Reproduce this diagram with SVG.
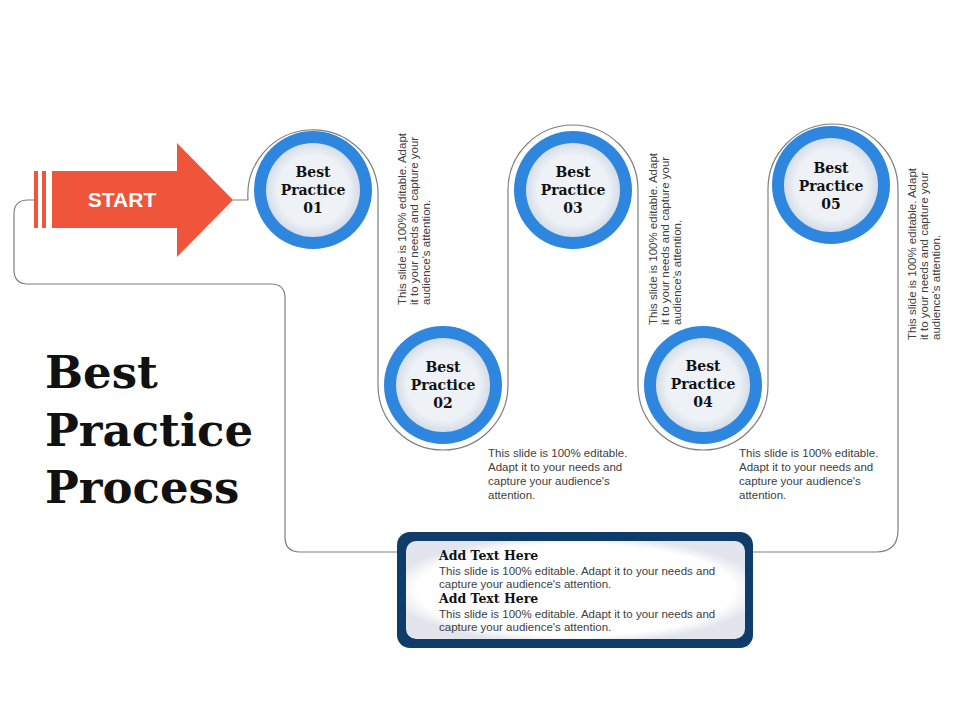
<svg xmlns="http://www.w3.org/2000/svg" width="960" height="720" viewBox="0 0 960 720">
<defs>
<radialGradient id="ig" cx="50%" cy="50%" r="50%"><stop offset="0.75" stop-color="#eef2f7"/><stop offset="1" stop-color="#d5dde8"/></radialGradient>
<radialGradient id="bg" cx="50%" cy="50%" r="55%"><stop offset="0.85" stop-color="#ffffff"/><stop offset="1" stop-color="#e2e6ec"/></radialGradient>
<style>
.ln{fill:none;stroke:#7f7f7f;stroke-width:1.2}
.ring{fill:#2e86de}
.in{fill:url(#ig)}
.lbl{font-family:"DejaVu Serif","Liberation Serif",serif;font-weight:bold;font-size:14px;text-anchor:middle;fill:#111}
.sm{font-family:"Liberation Sans",Arial,sans-serif;font-size:11.5px;fill:#404040}
.hd{font-family:"DejaVu Serif","Liberation Serif",serif;font-weight:bold;font-size:12.5px;fill:#111}
</style>
</defs>
<rect width="960" height="720" fill="#fff"/>
<g id="connectors">
<path class="ln" d="M233,200 H248 A65,65 0 0 1 378,190 V385 A65,65 0 0 0 508,385 V190 A65,65 0 0 1 638,190 V385 A65,65 0 0 0 768,385 V189 A65,65 0 0 1 898,189 V530 Q898,552 876,552 H752"/>
<path class="ln" d="M398,552 H300 Q285,552 285,537 V298 Q285,284 271,284 H28 Q14,284 14,270 V214 Q14,200 28,200 H35"/>
</g>
<g id="start">
<rect x="34" y="171" width="4" height="57" fill="#ef553a"/>
<rect x="42" y="171" width="4" height="57" fill="#ef553a"/>
<path d="M52,171 H177 V143 L233,200 L177,257 V228 H52 Z" fill="#ef553a"/>
<text x="122" y="207" font-family="Liberation Sans,Arial,sans-serif" font-weight="bold" font-size="21" fill="#fff" text-anchor="middle">START</text>
</g>
<g id="title" font-family="DejaVu Serif,Liberation Serif,serif" font-weight="bold" font-size="45" fill="#111">
<text x="45" y="388">Best</text><text x="45" y="446">Practice</text><text x="45" y="503">Process</text>
</g>
<g id="bp1"><circle class="ring" cx="313" cy="190" r="59"/><circle class="in" cx="313" cy="190" r="47"/>
<text class="lbl" x="313" y="177">Best</text><text class="lbl" x="313" y="195">Practice</text><text class="lbl" x="313" y="213">01</text></g>
<g id="bp2"><circle class="ring" cx="443" cy="385" r="59"/><circle class="in" cx="443" cy="385" r="47"/>
<text class="lbl" x="443" y="372">Best</text><text class="lbl" x="443" y="390">Practice</text><text class="lbl" x="443" y="408">02</text></g>
<g id="bp3"><circle class="ring" cx="573" cy="190" r="59"/><circle class="in" cx="573" cy="190" r="47"/>
<text class="lbl" x="573" y="177">Best</text><text class="lbl" x="573" y="195">Practice</text><text class="lbl" x="573" y="213">03</text></g>
<g id="bp4"><circle class="ring" cx="703" cy="385" r="59"/><circle class="in" cx="703" cy="385" r="47"/>
<text class="lbl" x="703" y="371">Best</text><text class="lbl" x="703" y="389">Practice</text><text class="lbl" x="703" y="407">04</text></g>
<g id="bp5"><circle class="ring" cx="831" cy="185" r="59"/><circle class="in" cx="831" cy="185" r="47"/>
<text class="lbl" x="831" y="173">Best</text><text class="lbl" x="831" y="191">Practice</text><text class="lbl" x="831" y="209">05</text></g>
<g id="t1" transform="translate(406,305) rotate(-90)" class="sm">
<text class="sm" x="0" y="0">This slide is 100% editable. Adapt</text><text class="sm" x="0" y="12">it to your needs and capture your</text><text class="sm" x="0" y="24">audience's attention.</text></g>
<g id="t3" transform="translate(657,325) rotate(-90)">
<text class="sm" x="0" y="0">This slide is 100% editable. Adapt</text><text class="sm" x="0" y="12">it to your needs and capture your</text><text class="sm" x="0" y="24">audience's attention.</text></g>
<g id="t5" transform="translate(916,340) rotate(-90)">
<text class="sm" x="0" y="0">This slide is 100% editable. Adapt</text><text class="sm" x="0" y="12">it to your needs and capture your</text><text class="sm" x="0" y="24">audience's attention.</text></g>
<g id="t2"><text class="sm" x="488" y="457">This slide is 100% editable.</text><text class="sm" x="488" y="471">Adapt it to your needs and</text><text class="sm" x="488" y="485">capture your audience's</text><text class="sm" x="488" y="499">attention.</text></g>
<g id="t4"><text class="sm" x="739" y="457">This slide is 100% editable.</text><text class="sm" x="739" y="471">Adapt it to your needs and</text><text class="sm" x="739" y="485">capture your audience's</text><text class="sm" x="739" y="499">attention.</text></g>
<g id="box">
<rect x="397" y="532" width="356" height="116" rx="13" fill="#0e3c6b"/>
<rect x="406" y="541" width="339" height="98" rx="10" fill="url(#bg)"/>
<text class="hd" x="439" y="560">Add Text  Here</text>
<text class="sm" x="439" y="575" font-size="10.5">This slide is 100% editable.  Adapt it to your needs and</text>
<text class="sm" x="439" y="588" font-size="10.5">capture your audience's attention.</text>
<text class="hd" x="439" y="603">Add Text  Here</text>
<text class="sm" x="439" y="618" font-size="10.5">This slide is 100% editable.  Adapt it to your needs and</text>
<text class="sm" x="439" y="631" font-size="10.5">capture your audience's attention.</text>
</g>
</svg>
